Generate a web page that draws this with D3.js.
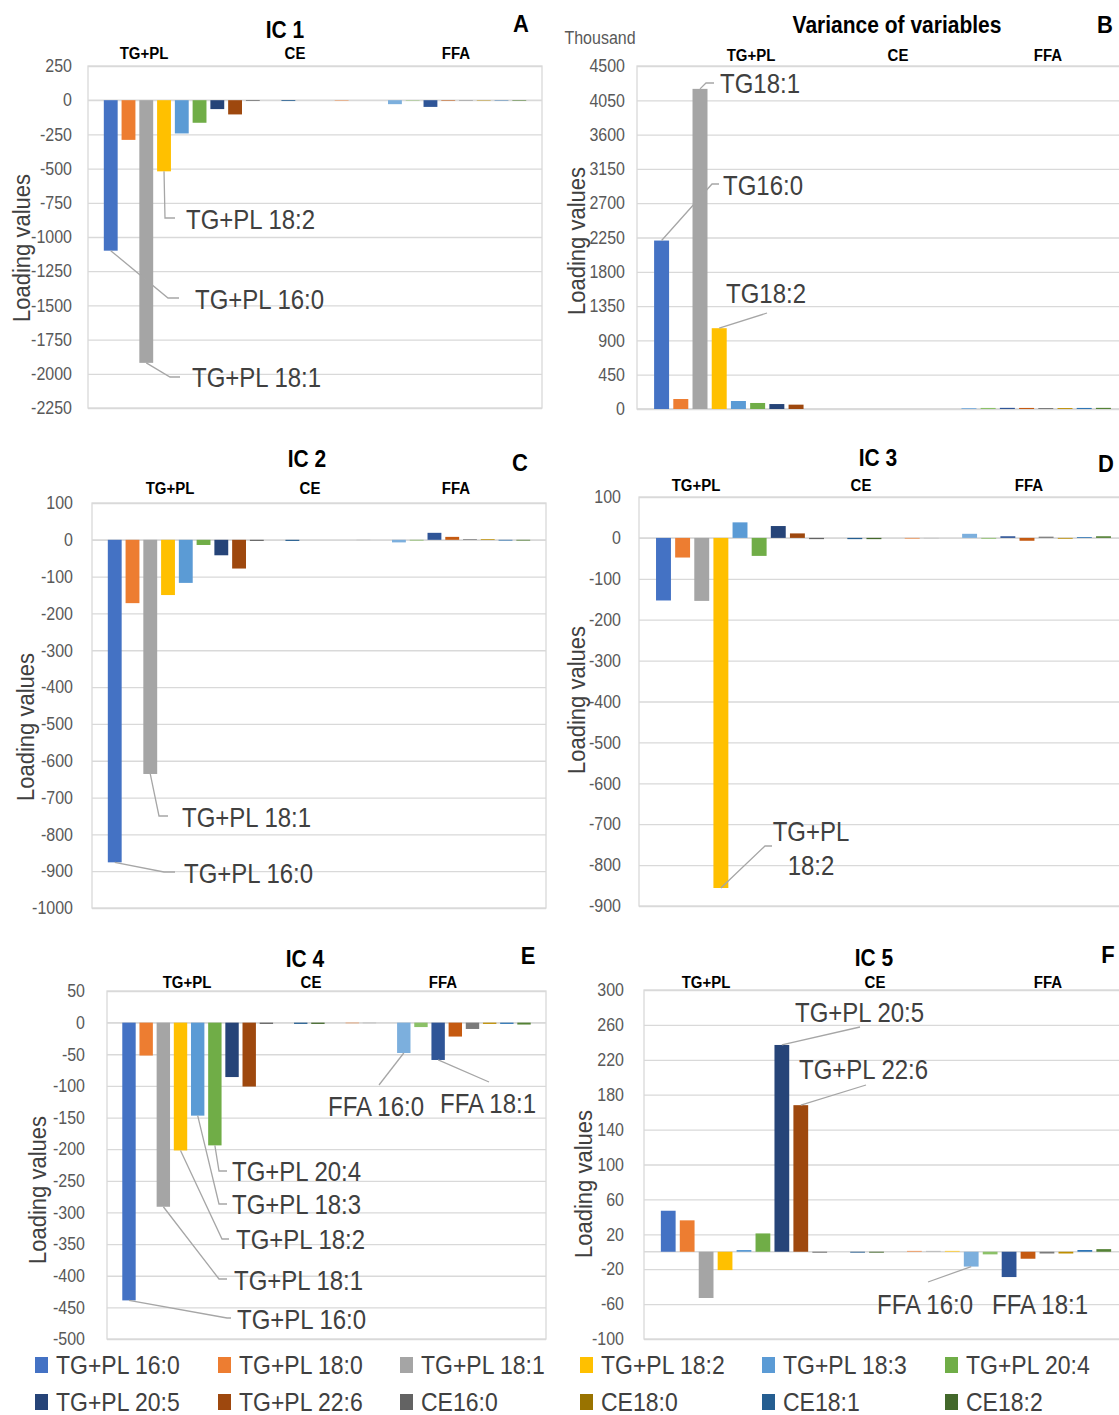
<!DOCTYPE html>
<html>
<head>
<meta charset="utf-8">
<script src="https://cdn.jsdelivr.net/npm/d3@7"></script>
<style>
  body { margin: 0; background: #fff; }
  svg text { font-family: "Liberation Sans", Arial, sans-serif; }
</style>
</head>
<body>
<svg id="chart" width="1119" height="1415"></svg>
<script>
// Variables, one bar slot each, in chart order
const variables = [
  "TG+PL 16:0", "TG+PL 18:0", "TG+PL 18:1", "TG+PL 18:2", "TG+PL 18:3", "TG+PL 20:4", "TG+PL 20:5", "TG+PL 22:6",
  "CE16:0", "CE18:0", "CE18:1", "CE18:2", "CE18:3", "CE20:4", "CE20:5", "CE22:6",
  "FFA 16:0", "FFA 18:0", "FFA 18:1", "FFA 18:2", "FFA 18:3", "FFA 20:4", "FFA 20:5", "FFA 22:6",
];

// Excel default series colours
const barColors = [
  "#4472C4", "#ED7D31", "#A5A5A5", "#FFC000", "#5B9BD5", "#70AD47", "#264478", "#9E480E",
  "#636363", "#997300", "#255E91", "#43682B", "#698ED0", "#F1975A", "#B7B7B7", "#FFCD33",
  "#7CAFDD", "#8CC168", "#2F5597", "#C55A11", "#7B7B7B", "#BF8F00", "#2E75B6", "#548235",
];

const groupLabels = ["TG+PL", "CE", "FFA"];

// Loading values per independent component
const ic1Values = [-1100, -290, -1920, -520, -243, -165, -65, -104, -5, 0, -6, 0, 0, -4, 0, 0, -29, -3, -49, -4, -3, -3, -3, -4];
const varianceValues = [2210, 131, 4200, 1060, 105, 79, 65, 57, 0, 0, 0, 0, 0, 0, 0, 0, 12, 14, 15, 14, 13, 12, 14, 15];
const ic2Values = [-876, -172, -636, -150, -117, -14, -42, -78, -3, 0, -3, 0, 0, 0, -1, 0, -7, -2, 19, 8, 2, 2, -2, -2];
const ic3Values = [-153, -48, -154, -856, 38, -44, 29, 11, -3, 0, -3, -3, 0, -2, -1, 0, 10, -2, 4, -7, 3, -2, 2, 4];
const ic4Values = [-439, -52, -291, -202, -147, -194, -86, -101, -2, 0, -2, -2, 0, -1, -1, 0, -48, -7, -59, -22, -10, -2, -2, -3];
const ic5Values = [47, 36, -53, -21, 2, 21, 237, 168, -1, 0, -1, -1, 0, 1, 1, 1, -17, -3, -29, -8, -2, -2, 2, 3];

// Tick labels
const ic1Ticks = [250, 0, -250, -500, -750, -1000, -1250, -1500, -1750, -2000, -2250];
const varianceTicks = [4500, 4050, 3600, 3150, 2700, 2250, 1800, 1350, 900, 450, 0];
const ic2Ticks = [100, 0, -100, -200, -300, -400, -500, -600, -700, -800, -900, -1000];
const ic3Ticks = [100, 0, -100, -200, -300, -400, -500, -600, -700, -800, -900];
const ic4Ticks = [50, 0, -50, -100, -150, -200, -250, -300, -350, -400, -450, -500];
const ic5Ticks = [300, 260, 220, 180, 140, 100, 60, 20, -20, -60, -100];

// Panel layout
const panels = [
  {
    letter: "A", title: "IC 1", values: ic1Values, ticks: ic1Ticks,
    left: 88, right: 542, top: 66, bottom: 408, tickRight: 72,
    titleX: 285, titleY: 30, letterX: 521, letterY: 23,
    groupX: [144, 295, 456], groupY: 53, yTitleX: 21, yTitleY: 248,
    notes: [
      { slot: 3, text: ["TG+PL 18:2"], path: [[165, 218], [175, 218]], tx: 186, ty: 220 },
      { slot: 0, text: ["TG+PL 16:0"], path: [[168, 298], [179, 298]], tx: 195, ty: 300 },
      { slot: 2, text: ["TG+PL 18:1"], path: [[170, 377], [180, 377]], tx: 192, ty: 378 },
    ],
  },
  {
    letter: "B", title: "Variance of variables", values: varianceValues, ticks: varianceTicks,
    left: 637, right: 1128, top: 66, bottom: 409, tickRight: 625,
    titleX: 897, titleY: 25, letterX: 1105, letterY: 24,
    groupX: [751, 898, 1048], groupY: 55, yTitleX: 576, yTitleY: 241,
    unit: { text: "Thousand", x: 600, y: 38 },
    notes: [
      { slot: 2, text: ["TG18:1"], path: [[706, 83], [714, 83]], tx: 720, ty: 84 },
      { slot: 0, text: ["TG16:0"], path: [[712, 184], [719, 184]], tx: 723, ty: 186 },
      { slot: 3, text: ["TG18:2"], path: [[767, 313]], tx: 726, ty: 294 },
    ],
  },
  {
    letter: "C", title: "IC 2", values: ic2Values, ticks: ic2Ticks,
    left: 92, right: 546, top: 503, bottom: 908, tickRight: 73,
    titleX: 307, titleY: 459, letterX: 520, letterY: 462,
    groupX: [170, 310, 456], groupY: 488, yTitleX: 25, yTitleY: 727,
    notes: [
      { slot: 2, text: ["TG+PL 18:1"], path: [[159, 816], [168, 816]], tx: 182, ty: 818 },
      { slot: 0, text: ["TG+PL 16:0"], path: [[164, 872], [175, 872]], tx: 184, ty: 874 },
    ],
  },
  {
    letter: "D", title: "IC 3", values: ic3Values, ticks: ic3Ticks,
    left: 639, right: 1128, top: 497, bottom: 906, tickRight: 621,
    titleX: 878, titleY: 458, letterX: 1106, letterY: 463,
    groupX: [696, 861, 1029], groupY: 485, yTitleX: 576, yTitleY: 700,
    notes: [
      { slot: 3, text: ["TG+PL", "18:2"], path: [[765, 846], [772, 846]], tx: 811, ty: 832, anchor: "middle" },
    ],
  },
  {
    letter: "E", title: "IC 4", values: ic4Values, ticks: ic4Ticks,
    left: 107, right: 546, top: 991, bottom: 1339, tickRight: 85,
    titleX: 305, titleY: 959, letterX: 528, letterY: 955,
    groupX: [187, 311, 443], groupY: 982, yTitleX: 37, yTitleY: 1190,
    notes: [
      { slot: 16, text: ["FFA 16:0"], path: [[379, 1085]], tx: 328, ty: 1107 },
      { slot: 18, text: ["FFA 18:1"], path: [[489, 1082]], tx: 440, ty: 1104 },
      { slot: 5, text: ["TG+PL 20:4"], path: [[219, 1171], [227, 1171]], tx: 232, ty: 1172 },
      { slot: 4, text: ["TG+PL 18:3"], path: [[219, 1204], [227, 1204]], tx: 232, ty: 1205 },
      { slot: 3, text: ["TG+PL 18:2"], path: [[222, 1239], [229, 1239]], tx: 236, ty: 1240 },
      { slot: 2, text: ["TG+PL 18:1"], path: [[219, 1279], [227, 1279]], tx: 234, ty: 1281 },
      { slot: 0, text: ["TG+PL 16:0"], path: [[227, 1318], [231, 1318]], tx: 237, ty: 1320 },
    ],
  },
  {
    letter: "F", title: "IC 5", values: ic5Values, ticks: ic5Ticks,
    left: 644, right: 1128, top: 990, bottom: 1339, tickRight: 624,
    titleX: 874, titleY: 958, letterX: 1108, letterY: 954,
    groupX: [706, 875, 1048], groupY: 982, yTitleX: 583, yTitleY: 1184,
    notes: [
      { slot: 6, text: ["TG+PL 20:5"], path: [[860, 1027]], tx: 795, ty: 1013 },
      { slot: 7, text: ["TG+PL 22:6"], path: [[866, 1085]], tx: 799, ty: 1070 },
      { slot: 16, text: ["FFA 16:0"], path: [[928, 1282]], tx: 877, ty: 1305 },
      { slot: 18, text: ["FFA 18:1"], path: [], tx: 992, ty: 1305 },
    ],
  },
];

const svg = d3.select("#chart");
const gridColor = "#d9d9d9";
const tickColor = "#595959";
const noteColor = "#404040";
// The source font (Calibri) is taller than it is wide; stretch text a little
const stretch = 1.12;

// Add a text centred vertically on (x, y), slightly stretched
function addText(parent, x, y, str, size, opts = {}) {
  const turn = opts.rotate ? " rotate(-90)" : "";
  return parent
    .append("text")
    .attr("transform", `translate(${x},${y})${turn} scale(1,${stretch})`)
    .attr("dy", "0.35em")
    .attr("text-anchor", opts.anchor || "start")
    .attr("font-size", size)
    .attr("font-weight", opts.bold ? "bold" : "normal")
    .attr("fill", opts.fill || "#000")
    .text(str);
}

// Draw one chart panel
function drawPanel(p) {
  const g = svg.append("g").attr("class", "panel-" + p.letter);

  const x = d3
    .scaleBand()
    .domain(variables)
    .range([p.left, p.right])
    .paddingInner(0.22)
    .paddingOuter(0.89);

  const y = d3
    .scaleLinear()
    .domain(d3.extent(p.ticks))
    .range([p.bottom, p.top]);

  // Gridlines
  g.append("g")
    .attr("transform", `translate(${p.left},0)`)
    .call(d3.axisLeft(y).tickValues(p.ticks).tickSize(-(p.right - p.left)).tickFormat(""))
    .call((a) => a.select(".domain").remove())
    .call((a) => a.selectAll("line").attr("stroke", gridColor).attr("stroke-width", 1.3));

  // Plot area frame and zero line
  g.append("rect")
    .attr("x", p.left)
    .attr("y", p.top)
    .attr("width", p.right - p.left)
    .attr("height", p.bottom - p.top)
    .attr("fill", "none")
    .attr("stroke", gridColor)
    .attr("stroke-width", 1.3);

  g.append("line")
    .attr("x1", p.left)
    .attr("x2", p.right)
    .attr("y1", y(0))
    .attr("y2", y(0))
    .attr("stroke", gridColor)
    .attr("stroke-width", 1.3);

  // Tick labels
  g.append("g")
    .attr("transform", `translate(${p.tickRight},0)`)
    .call(d3.axisLeft(y).tickValues(p.ticks).tickSize(0).tickPadding(0).tickFormat((d) => String(d)))
    .call((a) => a.select(".domain").remove())
    .call((a) =>
      a.selectAll("text")
        .attr("fill", tickColor)
        .attr("font-size", 16)
        .attr("font-family", '"Liberation Sans", Arial, sans-serif')
        .attr("transform", `scale(1,${stretch})`)
    );

  // Bars
  g.append("g")
    .selectAll("rect")
    .data(p.values)
    .join("rect")
    .attr("x", (d, i) => x(variables[i]))
    .attr("width", x.bandwidth())
    .attr("y", (d) => y(Math.max(0, d)))
    .attr("height", (d) => Math.abs(y(d) - y(0)))
    .attr("fill", (d, i) => barColors[i]);

  // Leader lines and data labels
  const line = d3.line();
  p.notes.forEach((n) => {
    const start = [x(variables[n.slot]) + x.bandwidth() / 2, y(p.values[n.slot])];
    if (n.path.length) {
      g.append("path")
        .attr("d", line([start, ...n.path]))
        .attr("fill", "none")
        .attr("stroke", "#a6a6a6")
        .attr("stroke-width", 1.3);
    }
    n.text.forEach((t, k) => {
      addText(g, n.tx, n.ty + k * 34, t, 24, { anchor: n.anchor, fill: noteColor });
    });
  });

  // Group labels above the plot
  groupLabels.forEach((lab, i) => {
    addText(g, p.groupX[i], p.groupY, lab, 15, { anchor: "middle", bold: true });
  });

  // Title, panel letter, axis title
  addText(g, p.titleX, p.titleY, p.title, 21, { anchor: "middle", bold: true });
  addText(g, p.letterX, p.letterY, p.letter, 22, { anchor: "middle", bold: true });
  addText(g, p.yTitleX, p.yTitleY, "Loading values", 22, { anchor: "middle", fill: noteColor, rotate: true });

  if (p.unit) {
    addText(g, p.unit.x, p.unit.y, p.unit.text, 16, { anchor: "middle", fill: tickColor });
  }
}

panels.forEach(drawPanel);

// Legend: first twelve series, two rows of six
const legendCols = [35, 218, 400, 580, 762, 945];
const legendRows = [1365, 1402];

const legendItem = svg
  .append("g")
  .attr("class", "legend")
  .selectAll("g")
  .data(variables.slice(0, 12))
  .join("g")
  .attr("transform", (d, i) => `translate(${legendCols[i % 6]},${legendRows[Math.floor(i / 6)]})`);

legendItem
  .append("rect")
  .attr("x", 0)
  .attr("y", -8)
  .attr("width", 13)
  .attr("height", 16)
  .attr("fill", (d, i) => barColors[i]);

legendItem.each(function (d) {
  addText(d3.select(this), 21, 0, d, 23, { fill: noteColor });
});
</script>
</body>
</html>
